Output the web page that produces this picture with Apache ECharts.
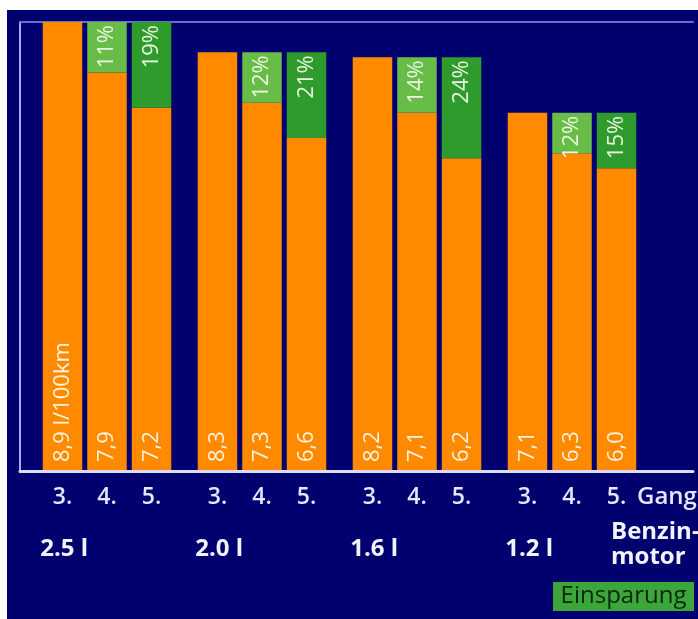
<!DOCTYPE html>
<html><head><meta charset="utf-8">
<script src="https://cdn.jsdelivr.net/npm/echarts@6/dist/echarts.min.js"></script>
<style>html,body{margin:0;padding:0;background:#fff;}#c{position:absolute;left:7px;top:10px;width:691px;height:609px;}</style>
</head><body><div id="c"></div>
<script>
const engines = ['2.5 l', '2.0 l', '1.6 l', '1.2 l'];
const gears = ['3.', '4.', '5.'];
const gear3 = [8.9, 8.3, 8.2, 7.1];
const gear4 = [7.9, 7.3, 7.1, 6.3];
const gear5 = [7.2, 6.6, 6.2, 6.0];
const save4 = ['11%', '12%', '14%', '12%'];
const save5 = ['19%', '21%', '24%', '15%'];
const unitText = ' l/100km';
const gangText = 'Gang';
const engineNote = 'Benzin-\nmotor';
const legendText = 'Einsparung';

const FONT = '"Open Sans", "Noto Sans", sans-serif';
const ORANGE = '#ff8a00';
const LGREEN = '#68bc48';
const DGREEN = '#2f9b2c';
const BW = 39.5;
const GAP = '12.7%';

const diff4 = gear3.map((v, i) => +(v - gear4[i]).toFixed(2));
const diff5 = gear3.map((v, i) => +(v - gear5[i]).toFixed(2));

function fmtVal(v) { return v.toFixed(1).replace('.', ','); }

const orangeLabel = (withUnit) => ({
  show: true, position: 'insideBottom', distance: 9, rotate: 90,
  align: 'left', verticalAlign: 'middle',
  fontFamily: FONT, fontSize: 22, color: '#fff2d8',
  formatter: p => fmtVal(p.value) + (withUnit && p.dataIndex === 0 ? unitText : '')
});
const greenLabel = (arr) => ({
  show: true, position: 'insideTop', distance: 3, rotate: 90,
  align: 'right', verticalAlign: 'middle',
  fontFamily: FONT, fontSize: 22, color: '#eaf6e0',
  formatter: p => arr[p.dataIndex]
});

const base = { type: 'bar', barWidth: BW, barGap: GAP, xAxisIndex: 0, yAxisIndex: 0 };

const chart = echarts.init(document.getElementById('c'));
chart.setOption({
  backgroundColor: '#00006f',
  animation: false,
  grid: [
    { left: 22.5, right: 48.5, top: 12, bottom: 148 },
    { left: 13, right: 5, top: 12, bottom: 148 }
  ],
  xAxis: [
    {
      type: 'category', gridIndex: 0, data: engines,
      axisLine: { show: false }, axisTick: { show: false },
      axisLabel: {
        interval: 0, margin: 13,
        formatter: (v) => gears.map(g => '{a|' + g + '}').join('') + '\n{e|' + v + '}',
        rich: {
          a: { width: 44.5, align: 'center', lineHeight: 26, fontSize: 23, fontWeight: 600, fontFamily: FONT, color: '#e6e6ff' },
          e: { width: 133.5, align: 'left', lineHeight: 78, fontSize: 24, fontWeight: 'bold', fontFamily: FONT, color: '#f2f2ff' }
        }
      }
    },
    {
      type: 'value', gridIndex: 1, min: 0, max: 1, position: 'bottom', z: 5,
      axisLine: { show: true, onZero: false, lineStyle: { color: '#dcdcf0', width: 3 } },
      axisTick: { show: false }, axisLabel: { show: false }, splitLine: { show: false }
    },
    {
      type: 'value', gridIndex: 1, min: 0, max: 1, position: 'top',
      axisLine: { show: true, onZero: false, lineStyle: { color: '#6c6cc8', width: 2 } },
      axisTick: { show: false }, axisLabel: { show: false }, splitLine: { show: false }
    }
  ],
  yAxis: [
    { type: 'value', gridIndex: 0, min: 0, max: 8.9, show: false },
    {
      type: 'value', gridIndex: 1, min: 0, max: 1, position: 'left',
      axisLine: { show: true, onZero: false, lineStyle: { color: '#a8a8e8', width: 2 } },
      axisTick: { show: false }, axisLabel: { show: false }, splitLine: { show: false }
    }
  ],
  series: [
    Object.assign({}, base, { name: gears[0], stack: 'g3', data: gear3, itemStyle: { color: ORANGE }, label: orangeLabel(true) }),
    Object.assign({}, base, { name: gears[1], stack: 'g4', data: gear4, itemStyle: { color: ORANGE }, label: orangeLabel(false) }),
    Object.assign({}, base, { name: gears[1] + ' ' + legendText, stack: 'g4', data: diff4, itemStyle: { color: LGREEN }, label: greenLabel(save4) }),
    Object.assign({}, base, { name: gears[2], stack: 'g5', data: gear5, itemStyle: { color: ORANGE }, label: orangeLabel(false) }),
    Object.assign({}, base, { name: gears[2] + ' ' + legendText, stack: 'g5', data: diff5, itemStyle: { color: DGREEN }, label: greenLabel(save5) })
  ],
  graphic: [
    { type: 'text', x: 630, y: 487, style: { text: gangText, font: '600 24px ' + FONT, fill: '#e6e6ff', verticalAlign: 'middle' } },
    { type: 'text', x: 604, y: 510, style: { text: engineNote, font: 'bold 24px ' + FONT, lineHeight: 25, fill: '#f2f2ff', verticalAlign: 'top' } },
    { type: 'rect', shape: { x: 546, y: 572, width: 141, height: 29 }, style: { fill: '#3da63a' } },
    { type: 'text', x: 616.5, y: 586.5, style: { text: legendText, font: '24px ' + FONT, fill: '#082a0c', align: 'center', verticalAlign: 'middle' } }
  ]
});
</script></body></html>
